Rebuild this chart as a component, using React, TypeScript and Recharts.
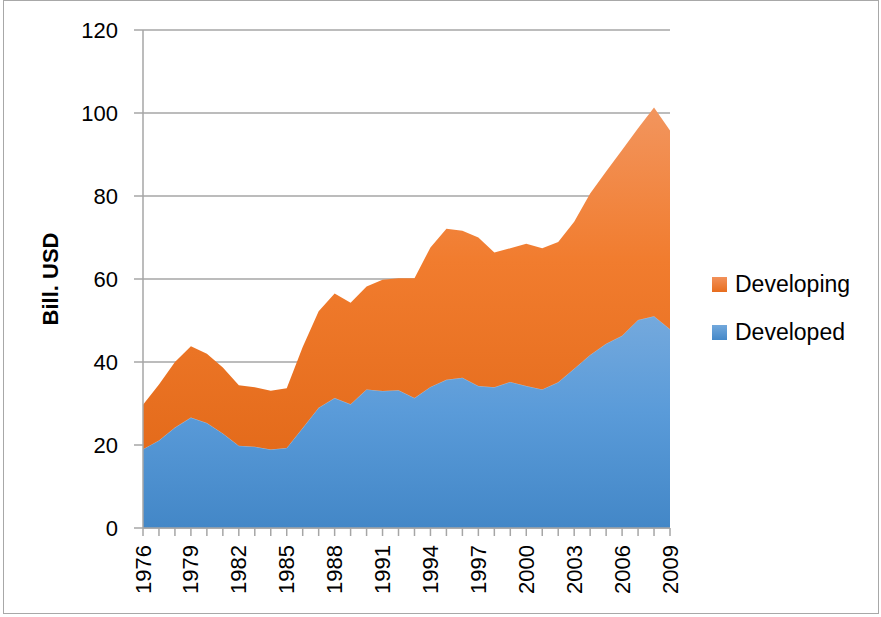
import { AreaChart, Area, XAxis, YAxis, CartesianGrid } from 'recharts'

const years = [
  '1976', '1977', '1978', '1979', '1980', '1981', '1982', '1983', '1984', '1985', '1986', '1987',
  '1988', '1989', '1990', '1991', '1992', '1993', '1994', '1995', '1996', '1997', '1998', '1999',
  '2000', '2001', '2002', '2003', '2004', '2005', '2006', '2007', '2008', '2009',
]

// Bill. USD
const developed = [
  19.0, 21.1, 24.2, 26.6, 25.3, 22.8, 19.8, 19.6, 18.9, 19.3, 24.1, 29.0,
  31.3, 29.8, 33.4, 33.0, 33.2, 31.3, 34.0, 35.7, 36.2, 34.2, 33.9, 35.2,
  34.2, 33.4, 35.1, 38.4, 41.7, 44.4, 46.3, 50.1, 51.0, 47.9,
]
const developing = [
  10.7, 13.5, 15.8, 17.2, 16.7, 15.9, 14.6, 14.3, 14.2, 14.4, 19.5, 23.2,
  25.2, 24.5, 24.8, 26.8, 27.0, 28.9, 33.6, 36.4, 35.4, 35.8, 32.5, 32.2,
  34.3, 34.0, 33.8, 35.4, 38.9, 41.5, 44.8, 46.2, 50.3, 47.9,
]

const yTicks = [0, 20, 40, 60, 80, 100, 120]

const data = years.map((year, i) => ({
  year,
  developed: developed[i],
  developing: developing[i],
}))

const FONT = '"Liberation Sans", Arial, sans-serif'
const GRID = '#a6a6a6'

const legendItems = [
  { name: 'Developing', swatch: 'linear-gradient(#f2915a, #e76d1e)' },
  { name: 'Developed', swatch: 'linear-gradient(#72a8dc, #4488c8)' },
]

const YearTick = (props: any) => {
  const { x, y, payload } = props
  if (payload.index % 3 !== 0) return null
  return (
    <text
      x={x}
      y={y}
      transform={`rotate(-90, ${x}, ${y})`}
      textAnchor="end"
      dominantBaseline="central"
      fontSize={22}
      fontFamily={FONT}
      fill="#000"
    >
      {payload.value}
    </text>
  )
}

export default function App() {
  return (
    <div style={{ position: 'absolute', left: 0, top: 0, width: 881, height: 617, background: '#fff' }}>
      <div
        style={{
          position: 'absolute',
          left: 3,
          top: 0,
          width: 876,
          height: 614,
          border: '1px solid #a8a8a8',
          boxSizing: 'border-box',
        }}
      />
      <AreaChart
        width={881}
        height={617}
        data={data}
        margin={{ top: 30, right: 211, left: 33, bottom: 9 }}
        style={{ position: 'absolute', left: 0, top: 0 }}
      >
        <defs>
          <linearGradient id="orangeGrad" x1="0" y1="0" x2="0" y2="1">
            <stop offset="0%" stopColor="#f2955e" />
            <stop offset="45%" stopColor="#f17c2e" />
            <stop offset="100%" stopColor="#e46b1b" />
          </linearGradient>
          <linearGradient id="blueGrad" x1="0" y1="0" x2="0" y2="1">
            <stop offset="0%" stopColor="#74a9dd" />
            <stop offset="45%" stopColor="#5a9bd9" />
            <stop offset="100%" stopColor="#4387c7" />
          </linearGradient>
        </defs>
        <CartesianGrid vertical={false} stroke={GRID} strokeWidth={1.5} />
        <XAxis
          dataKey="year"
          interval={0}
          height={80}
          stroke={GRID}
          strokeWidth={1.5}
          tickSize={8}
          tickMargin={9}
          tick={<YearTick />}
        />
        <YAxis
          width={110}
          domain={[0, 120]}
          ticks={yTicks}
          stroke={GRID}
          strokeWidth={1.5}
          tickSize={9}
          tickMargin={16}
          tick={{ fontSize: 22, fontFamily: FONT, fill: '#000' }}
          label={{
            value: 'Bill. USD',
            angle: -90,
            position: 'insideLeft',
            offset: 17,
            style: { textAnchor: 'middle', fontSize: 22, fontWeight: 'bold', fontFamily: FONT, fill: '#000' },
          }}
        />
        <Area
          type="linear"
          dataKey="developed"
          name="Developed"
          stackId="a"
          stroke="#8fbbe6"
          strokeWidth={0.8}
          fill="url(#blueGrad)"
          fillOpacity={1}
          isAnimationActive={false}
        />
        <Area
          type="linear"
          dataKey="developing"
          name="Developing"
          stackId="a"
          stroke="none"
          fill="url(#orangeGrad)"
          fillOpacity={1}
          isAnimationActive={false}
        />
      </AreaChart>
      <div style={{ position: 'absolute', left: 712, top: 260, fontFamily: FONT, fontSize: 23, color: '#000' }}>
        {legendItems.map((item) => (
          <div key={item.name} style={{ display: 'flex', alignItems: 'center', height: 48 }}>
            <span style={{ width: 15, height: 15, background: item.swatch, marginRight: 8 }} />
            <span>{item.name}</span>
          </div>
        ))}
      </div>
    </div>
  )
}
